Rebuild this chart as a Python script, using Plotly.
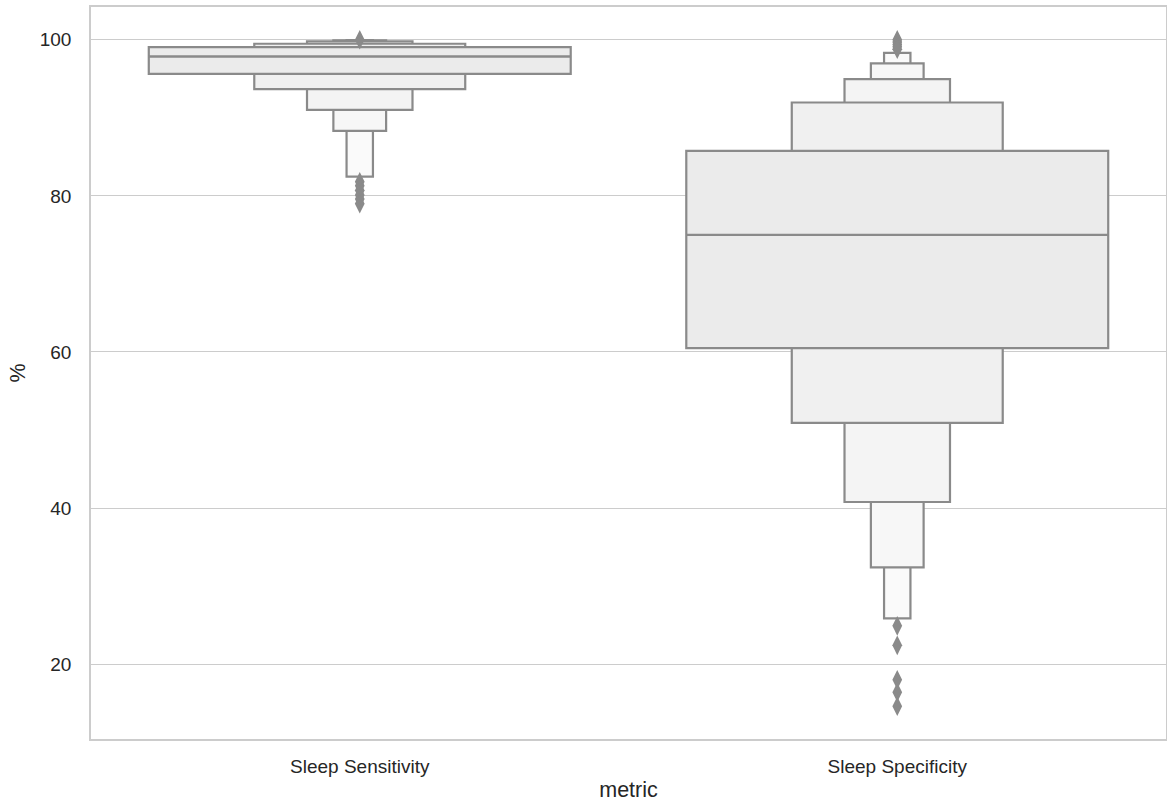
import plotly.graph_objects as go

categories = ["Sleep Sensitivity", "Sleep Specificity"]

# letter values (level 1 = quartiles, then octiles, ...)
sens_lower = [95.64, 93.68, 91.03, 88.33, 82.47]
sens_upper = [99.06, 99.49, 99.80, 99.92, 99.97]
sens_median = 97.86
sens_outliers = [100.0, 81.8, 81.3, 80.7, 80.1, 79.6, 79.0]

spec_lower = [60.5, 50.9, 40.77, 32.4, 25.86]
spec_upper = [85.77, 91.96, 94.96, 96.97, 98.33]
spec_median = 75.0
spec_outliers = [100.0, 99.7, 99.4, 99.1, 98.8, 24.9, 22.4, 18.0, 16.4, 14.6]

y_ticks = [20, 40, 60, 80, 100]

EDGE = "#8a8a8a"
FILLS = ["#ebebeb", "#f0f0f0", "#f4f4f4", "#f7f7f7", "#fafafa"]
W0 = 0.785

fig = go.Figure()

groups = [
    (0, sens_lower, sens_upper, sens_median, sens_outliers),
    (1, spec_lower, spec_upper, spec_median, spec_outliers),
]

for xi, lo, up, med, outl in groups:
    n = len(lo)
    # draw narrowest (outermost levels) first so widest sits on top
    for k in reversed(range(n)):
        w = W0 * (0.5 ** k)
        fig.add_trace(go.Bar(
            x=[xi], y=[up[k] - lo[k]], base=[lo[k]], width=w,
            marker=dict(color=FILLS[k], line=dict(color=EDGE, width=2.2)),
            showlegend=False, hoverinfo="skip",
        ))
    fig.add_trace(go.Scatter(
        x=[xi - W0 / 2, xi + W0 / 2], y=[med, med], mode="lines",
        line=dict(color=EDGE, width=2.4), showlegend=False, hoverinfo="skip",
    ))
    fig.add_trace(go.Scatter(
        x=[xi] * len(outl), y=outl, mode="markers",
        marker=dict(symbol="diamond-tall", size=14, color=EDGE, line=dict(width=0)),
        showlegend=False, hoverinfo="skip",
    ))

font_family = "Liberation Sans, Arial, sans-serif"

fig.update_layout(
    width=1167, height=804,
    barmode="overlay",
    plot_bgcolor="white", paper_bgcolor="white",
    margin=dict(l=91, r=1, t=7, b=65, autoexpand=False),
    font=dict(family=font_family, size=19, color="#262626"),
    xaxis=dict(
        range=[-0.5, 1.5], tickmode="array", tickvals=[0, 1], ticktext=categories,
        showgrid=False, zeroline=False, showline=True, mirror=True,
        linecolor="#cccccc", linewidth=1.5, ticks="", ticklabelstandoff=9,
        automargin=False,
        title=dict(text="metric", font=dict(size=21.5, family=font_family, color="#262626"), standoff=6),
    ),
    yaxis=dict(
        range=[10.4, 104.2], tickmode="array", tickvals=y_ticks,
        showgrid=True, gridcolor="#cccccc", gridwidth=1.2, zeroline=False,
        showline=True, mirror=True, linecolor="#cccccc", linewidth=1.5,
        ticks="", ticklabelstandoff=14, automargin=False,
        title=dict(text="%", font=dict(size=21.5, family=font_family, color="#262626"), standoff=8),
    ),
)

fig.write_html("out.html", config={"displayModeBar": False},
               post_script="document.body.style.margin='0';")
